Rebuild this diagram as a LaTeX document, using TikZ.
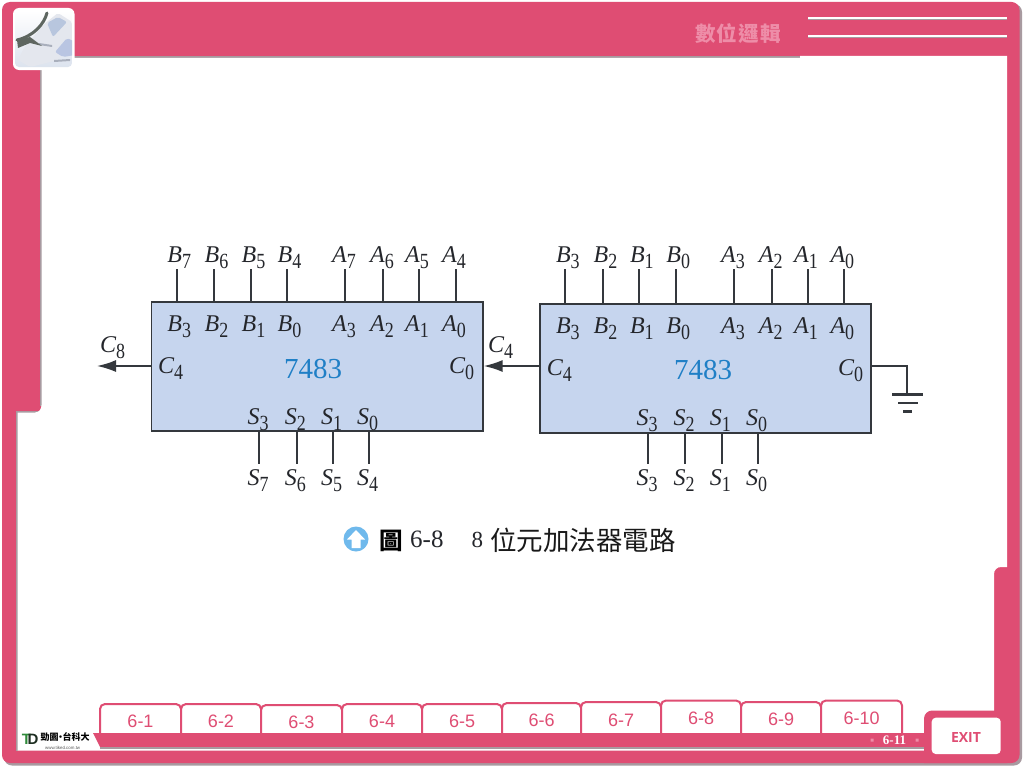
\documentclass[tikz,border=0pt]{standalone}
\usepackage{graphicx}
\usepackage{fontspec}
\setmainfont{Liberation Serif}
\newfontfamily\sansf{Liberation Sans}
\newfontfamily\opens{Open Sans}
\newfontfamily\cjk{Noto Sans CJK TC}
\usetikzlibrary{arrows.meta}
\definecolor{framepink}{HTML}{DF4D73}
\definecolor{shadowgray}{HTML}{A89AA0}
\definecolor{titlepink}{HTML}{EE8DA8}
\definecolor{chipfill}{HTML}{C6D5EE}
\definecolor{chipline}{HTML}{34383D}
\definecolor{chipblue}{HTML}{1F7FC6}
\definecolor{capblue}{HTML}{6FB9EC}
\definecolor{labeltext}{HTML}{24262B}
\definecolor{iconbase}{HTML}{DCE3EE}
\definecolor{iconblueA}{HTML}{B8C6DE}
\definecolor{iconblueB}{HTML}{B9C5E2}
\definecolor{iconbody}{HTML}{E4E7EE}
\definecolor{iconslot}{HTML}{A9AFBC}
\definecolor{icondark}{HTML}{5E6660}
\definecolor{logogreen}{HTML}{2F8A3A}
\definecolor{logodark}{HTML}{1E2E22}
\newcommand\pinlab[2]{{\fontsize{24}{24}\selectfont\itshape #1}\raisebox{-6pt}{\scalebox{1}[1.2]{\fontsize{18}{18}\selectfont #2}}}
\tikzset{
  x=1pt,y=-1pt,
  wire/.style={draw=chipline,line width=1.8pt},
  chipbox/.style={fill=chipfill,draw=chipline,line width=1.6pt},
  pinname/.style={anchor=base west,inner sep=0pt,text=labeltext},
  chipname/.style={anchor=base,inner sep=0pt,text=chipblue,font=\fontsize{29}{29}\selectfont},
  arrowwire/.style={draw=chipline,line width=1.8pt,-{Latex[length=19pt,width=12pt]}},
  tabshape/.style={fill=white,draw=framepink,line width=2pt,rounded corners=5pt},
  tabtext/.style={inner sep=0pt,text=framepink,font=\sansf\fontsize{18}{18}\selectfont},
}
\begin{document}
\begin{tikzpicture}
\useasboundingbox (0,0) rectangle (1024,768);
\fill[white] (0,0) rectangle (1024,768);
% frame
\fill[shadowgray,rounded corners=8pt] (4,4) rectangle (1022,765.5);
\fill[framepink,rounded corners=8pt] (2,2) rectangle (1019.5,763);
% edge shadows sit under the white opening
\fill[shadowgray] (40,56) rectangle (800,58);
\fill[shadowgray] (15.5,411) rectangle (42,412.5);
\fill[shadowgray] (15.5,411) rectangle (18,751);
\fill[shadowgray] (40,56) rectangle (42,406);
\fill[white] (41.5,58) -- (800,58) -- (800,56) -- (1007,56) -- (1007,567) -- (1001,567)
   .. controls (997,567) and (994,570) .. (994,574) -- (994,750.5) -- (17.5,750.5) -- (17.5,412.5)
   -- (35,412.5) .. controls (39,412.5) and (41.5,409) .. (41.5,405) -- cycle;
% top rule lines
\draw[shadowgray,line width=1.5pt] (808,19.5) -- (1007,19.5) (808,37.5) -- (1007,37.5);
\draw[white,line width=1.8pt] (808,18) -- (1007,18) (808,36) -- (1007,36);
\node[inner sep=0pt,text=titlepink,font=\cjk\bfseries\fontsize{20.5}{21}\selectfont] (title) at (738,34) {數\kern1.3pt 位\kern1.3pt 邏\kern1.3pt 輯};
% corner icon
\fill[white,rounded corners=6pt] (13,8) rectangle (74.5,70);
\begin{scope}
\clip[rounded corners=4pt] (15,11) rectangle (72,67);
\shade[top color=white,bottom color=iconbase] (15,11) rectangle (72,67);
\fill[iconbody,rounded corners=2pt] (43,25) -- (58,13) -- (72,22) -- (72,44) -- (58,60) -- (30,67) -- (18,60) -- (24,48) -- cycle;
\fill[iconblueA,rounded corners=2pt] (47,23) -- (58,17) -- (67,22) -- (53,37) -- cycle;
\fill[iconblueB,rounded corners=2pt] (55,52) -- (67,38) -- (75,42) -- (75,55) -- (63,57) -- cycle;
\fill[iconslot] (39,43) -- (52,45) -- (52,47) -- (39,45) -- cycle;
\fill[iconslot] (54,60) -- (70,59) -- (70,61) -- (54,62) -- cycle;
\draw[icondark,line width=3pt,line cap=round] (47,13) .. controls (44,24) and (34,36) .. (17,40);
\fill[icondark] (17,40) -- (30,37) -- (42,46) -- (30,43) -- (18,48) -- cycle;
\end{scope}
% tabs
\foreach \n/\a/\b/\t/\ty in {1/100/181/704/721,2/181/261/704/721,3/261/342/705/722,4/342/422/704/721,5/422/502/704/721,6/502/581/703/720,7/581/661/702/720,8/661/741/700.5/718,9/741/821/702/719,10/821/902/700.5/718}{
  \draw[tabshape] (\a,\t) rectangle (\b,745);
  \node[tabtext] (tab\n) at ({(\a+\b)/2},\ty) {6-\n};
}
% band and exit block
\fill[framepink] (93,733) -- (930,733) -- (930,746.8) -- (100,746.8) -- cycle;
\fill[shadowgray] (100,746.8) rectangle (925,748.6);
\fill[framepink] (924,763) -- (924,718.5) .. controls (924,714) and (928,710.5) .. (932,710.5) -- (1007,710.5) -- (1007,763) -- cycle;
\fill[white,rounded corners=4pt] (931.7,717.7) rectangle (1000.7,754);
\node[inner sep=0pt,text=framepink,font=\opens\bfseries\fontsize{14}{14}\selectfont] (exit) at (966,737) {EXIT};
\node[inner sep=0pt,text=white,font=\bfseries\fontsize{13}{13}\selectfont] (page) at (894.5,740) {6-11};
\fill[titlepink] (870.5,738.5) rectangle (873.5,741.5) (915.5,738.5) rectangle (918.5,741.5);
% logo
\node[inner sep=0pt,anchor=base,text=logogreen,font=\sansf\bfseries\fontsize{15}{15}\selectfont] (logoT) at (26.5,744.5) {T};
\node[inner sep=0pt,anchor=base,text=logodark,font=\sansf\bfseries\fontsize{15}{15}\selectfont] (logoD) at (33,744.5) {D};
\node[inner sep=0pt,anchor=west,text=black,font=\cjk\bfseries\fontsize{9}{9.5}\selectfont] (logotext) at (40.5,737) {勁園\kern-2.5pt·\kern-2.5pt 台科大};
\node[inner sep=0pt,anchor=west,text=black!65,font=\sansf\fontsize{4.4}{4.6}\selectfont] (logourl) at (45,748) {www.tiked.com.tw};
% left chip
\node[chipbox,minimum width=331.4pt,minimum height=129.2pt,inner sep=0pt,anchor=north west] (chipA) at (150.6,301.2) {};
\node[chipname] (nameA) at (313,378) {7483};
\foreach \wx/\o/\L/\I/\P in {176.7/9.5/B/7/3,214/9.5/B/6/2,251/9.5/B/5/1,287/9.5/B/4/0,345/13/A/7/3,383/13/A/6/2,419/14/A/5/1,456/14/A/4/0}{
  \node[pinname] (oa\L\I) at (\wx-\o,262) {\pinlab{\L}{\I}};
  \node[pinname] (ia\L\P) at (\wx-\o,331.7) {\pinlab{\L}{\P}};
  \coordinate (ta\L\I) at (\wx,269);
  \draw[wire] (ta\L\I) -- (ta\L\I |- chipA.north);
}
\foreach \wx/\I/\P in {259.3/7/3,296.7/6/2,333/5/1,369/4/0}{
  \node[pinname] (iaS\P) at (\wx-12,424) {\pinlab{S}{\P}};
  \node[pinname] (oaS\I) at (\wx-12,485) {\pinlab{S}{\I}};
  \coordinate (ba\I) at (\wx,464);
  \draw[wire] (ba\I |- chipA.south) -- (ba\I);
}
\node[pinname] (iaC4) at (158,373) {\pinlab{C}{4}};
\node[pinname] (iaC0) at (449,373) {\pinlab{C}{0}};
\node[pinname] (c8) at (100,352) {\pinlab{C}{8}};
\coordinate (c8end) at (97,366);
\draw[arrowwire] (chipA.west |- c8end) -- (c8end);
% right chip
\node[chipbox,minimum width=331.3pt,minimum height=129.2pt,inner sep=0pt,anchor=north west] (chipB) at (539,303) {};
\node[chipname] (nameB) at (703,379) {7483};
\foreach \wx/\o/\L/\P in {565.3/9.5/B/3,603/9.5/B/2,639.3/9.5/B/1,675.7/9.5/B/0,734/13/A/3,771.7/13/A/2,808/14/A/1,844.3/14/A/0}{
  \node[pinname] (ob\L\P) at (\wx-\o,262) {\pinlab{\L}{\P}};
  \node[pinname] (ib\L\P) at (\wx-\o,333) {\pinlab{\L}{\P}};
  \coordinate (tb\L\P) at (\wx,269);
  \draw[wire] (tb\L\P) -- (tb\L\P |- chipB.north);
}
\foreach \wx/\P in {648.3/3,685.3/2,721.7/1,758/0}{
  \node[pinname] (ibS\P) at (\wx-12,425.7) {\pinlab{S}{\P}};
  \node[pinname] (obS\P) at (\wx-12,485.7) {\pinlab{S}{\P}};
  \coordinate (bb\P) at (\wx,464);
  \draw[wire] (bb\P |- chipB.south) -- (bb\P);
}
\node[pinname] (ibC4) at (546.7,375) {\pinlab{C}{4}};
\node[pinname] (ibC0) at (838,375) {\pinlab{C}{0}};
\node[pinname] (c4) at (488,352) {\pinlab{C}{4}};
\coordinate (carry) at (chipB.west |- c8end);
\draw[arrowwire] (carry) -- (chipA.east |- carry);
% ground
\coordinate (gnd) at (907.3,394);
\draw[wire] (chipB.east |- 0,365.7) -| (gnd);
\fill[chipline] (891.7,392.5) rectangle (923.3,395.5);
\fill[chipline] (897.7,401.7) rectangle (917.7,404.3);
\fill[chipline] (903,410.2) rectangle (911.7,413.2);
% caption
\fill[capblue] (356,539) circle (12.5);
\fill[white] (356,530) -- (365,539.5) -- (360.5,539.5) -- (360.5,548) -- (351.5,548) -- (351.5,539.5) -- (347,539.5) -- cycle;
\node[inner sep=0pt,anchor=west,text=black,font=\cjk\bfseries\fontsize{23.5}{24}\selectfont] (figword) at (379,540.5) {圖};
\node[inner sep=0pt,anchor=base west,text=labeltext,font=\fontsize{25}{25}\selectfont] (fignum) at (410,547) {6-8};
\node[inner sep=0pt,anchor=base west,text=labeltext,font=\fontsize{23}{23}\selectfont] (eight) at (471.5,547) {8};
\node[inner sep=0pt,anchor=west,text=black!90,font=\cjk\fontsize{26.5}{27}\selectfont] (figtext) at (490,540.5) {位元加法器電路};
\end{tikzpicture}
\end{document}
